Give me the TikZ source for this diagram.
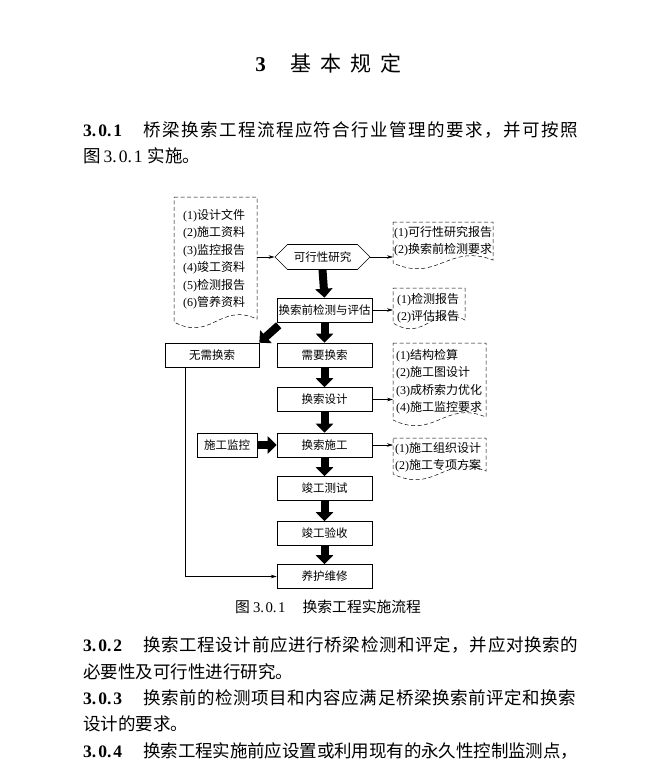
\documentclass[tikz,border=0pt]{standalone}
\usepackage{fontspec}
\setmainfont{Liberation Serif}
\newfontfamily\cjk{Noto Sans CJK SC}
\usetikzlibrary{arrows.meta,shapes.symbols}
\newcommand\zh[1]{{\cjk #1}}
\makeatletter
\newcommand\spreadzh[1]{{\cjk\@tfor\zz@c:=#1\do{\zz@c\hskip0pt plus 1fil minus 1pt}\unskip}}
\makeatother
\newcommand\secno[1]{\textbf{#1}}
\newcommand\docpath[4]{\draw[docframe] (#1,#2) -- (#3,#2) -- (#3,#4-3) .. controls ({#1+0.55*(#3-#1)},#4-20) and ({#1+0.45*(#3-#1)},#4+20) .. (#1,#4) -- cycle;}
\tikzset{
  flowbox/.style={draw, line width=0.6pt, minimum width=95pt, minimum height=24pt, inner sep=0pt, font=\fontsize{11.5}{14}\selectfont\cjk},
  doctext/.style={anchor=north west, align=left, inner ysep=0pt, font=\fontsize{12}{17.5}\selectfont},
  docframe/.style={line width=0.5pt, dash pattern=on 4pt off 2.5pt},
  thinarrow/.style={draw, line width=0.5pt, -{Stealth[length=6pt,width=3.5pt]}},
  bigarrow/.style={draw, line width=8pt, -{Triangle[length=9pt,width=17pt]}},
  bodytext/.style={anchor=west, inner sep=0pt, font=\fontsize{17.5}{20}\selectfont}
}
\begin{document}
\begin{tikzpicture}[x=1pt,y=-1pt]
\path[fill=white] (0,0) rectangle (659,776);
\useasboundingbox (0,0) rectangle (659,776);
\node[inner sep=0pt, font=\fontsize{21}{24}\selectfont] (title) at (328.5,63) {\textbf{3}\hspace{25pt}\zh{基\hspace{9pt}本\hspace{9pt}规\hspace{9pt}定}};
\node[bodytext] (s301a) at (83,130) {\makebox[495pt][s]{\secno{3.\kern2pt0.\kern2pt1}\hspace*{21pt}\spreadzh{桥梁换索工程流程应符合行业管理的要求，并可按照}}};
\node[bodytext] (s301b) at (83,156) {\zh{图}\hspace{3pt}3.\kern2pt0.\kern2pt1\hspace{5pt}\zh{实施。}};

\node[flowbox, signal, signal to=west and east, signal pointer angle=90, minimum height=25pt] (kx) at (322.5,257) {可行性研究};
\node[flowbox] (jc) at (324.5,310) {换索前检测与评估};
\node[flowbox, minimum width=94pt] (wx) at (212,355) {无需换索};
\node[flowbox] (xy) at (324.5,355) {需要换索};
\node[flowbox] (sj) at (324.5,399.5) {换索设计};
\node[flowbox, minimum width=60pt] (jk) at (227,445) {施工监控};
\node[flowbox] (sg) at (324.5,445) {换索施工};
\node[flowbox] (cs) at (324.5,488.5) {竣工测试};
\node[flowbox] (ys) at (324.5,533.5) {竣工验收};
\node[flowbox] (yh) at (324.5,576.5) {养护维修};

\node[doctext, inner xsep=9pt, text width=65pt] (d0) at (174,209) {(1)\zh{设计文件}\\(2)\zh{施工资料}\\(3)\zh{监控报告}\\(4)\zh{竣工资料}\\(5)\zh{检测报告}\\(6)\zh{管养资料}};
\node[doctext, inner xsep=1pt, text width=98pt] (d1) at (393,226) {(1)\zh{可行性研究报告}\\(2)\zh{换索前检测要求}};
\node[doctext, inner xsep=4pt, text width=64pt] (d2) at (393,293) {(1)\zh{检测报告}\\(2)\zh{评估报告}};
\node[doctext, inner xsep=3pt, text width=87pt] (d3) at (393,349) {(1)\zh{结构检算}\\(2)\zh{施工图设计}\\(3)\zh{成桥索力优化}\\(4)\zh{施工监控要求}};
\node[doctext, inner xsep=2pt, text width=89pt] (d4) at (393,442) {(1)\zh{施工组织设计}\\(2)\zh{施工专项方案}};
\docpath{174}{197}{257}{322}
\docpath{393}{222}{493}{263}
\docpath{393}{288}{465}{323}
\docpath{393}{343}{486}{420}
\docpath{393}{438}{486}{474}

\draw[thinarrow] (d0.east |- kx.west) -- (kx.west);
\draw[thinarrow] (kx.east) -- (kx.east -| d1.west);
\draw[thinarrow] (jc.east) -- (jc.east -| d2.west);
\draw[thinarrow] (sj.east) -- (sj.east -| d3.west);
\draw[thinarrow] (sg.east) -- (sg.east -| d4.west);
\draw[thinarrow] ([xshift=-27pt]wx.south) |- (yh.west);

\draw[bigarrow] (kx.south) -- (jc.north);
\draw[bigarrow] (jc.south) -- (xy.north);
\draw[bigarrow] (xy.south) -- (sj.north);
\draw[bigarrow] (sj.south) -- (sg.north);
\draw[bigarrow] (sg.south) -- (cs.north);
\draw[bigarrow] (cs.south) -- (ys.north);
\draw[bigarrow] (ys.south) -- (yh.north);
\draw[bigarrow] (jk.east) -- (sg.west);
\draw[bigarrow] ([shift={(2pt,-3pt)}]jc.south west) -- (wx.north east);

\node[inner sep=0pt, anchor=west, font=\fontsize{14.8}{16}\selectfont] (cap) at (235,607) {\zh{图}\hspace{3pt}3.\kern1.5pt0.\kern1.5pt1\hspace{17pt}\zh{换索工程实施流程}};

\node[bodytext] (s302a) at (83,645) {\makebox[495pt][s]{\secno{3.\kern2pt0.\kern2pt2}\hspace*{21pt}\spreadzh{换索工程设计前应进行桥梁检测和评定，并应对换索的}}};
\node[bodytext] (s302b) at (83,672) {\zh{必要性及可行性进行研究。}};
\node[bodytext] (s303a) at (83,698) {\makebox[493pt][s]{\secno{3.\kern2pt0.\kern2pt3}\hspace*{21pt}\spreadzh{换索前的检测项目和内容应满足桥梁换索前评定和换索}}};
\node[bodytext] (s303b) at (83,724) {\zh{设计的要求。}};
\node[bodytext] (s304a) at (83,751) {\makebox[495pt][s]{\secno{3.\kern2pt0.\kern2pt4}\hspace*{21pt}\spreadzh{换索工程实施前应设置或利用现有的永久性控制监测点，}}};
\end{tikzpicture}
\end{document}
